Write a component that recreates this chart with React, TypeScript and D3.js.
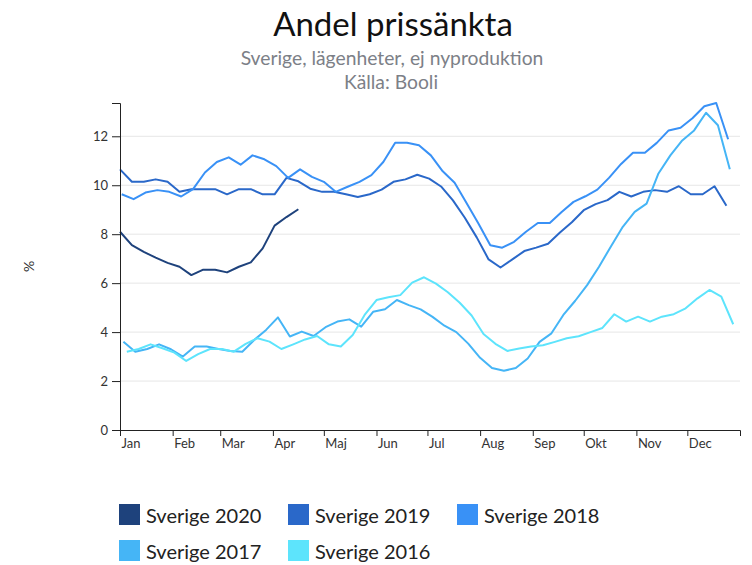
import React, { useEffect, useRef } from 'react';
import * as d3 from 'd3';

const months = ['Jan', 'Feb', 'Mar', 'Apr', 'Maj', 'Jun', 'Jul', 'Aug', 'Sep', 'Okt', 'Nov', 'Dec'];
const yTicks = [0, 2, 4, 6, 8, 10, 12];

const seriesNames = ['Sverige 2020', 'Sverige 2019', 'Sverige 2018', 'Sverige 2017', 'Sverige 2016'];
const seriesColors = ['#1e427c', '#2a68c9', '#3991f6', '#45b5f6', '#5de4fc'];
// day of year (0 = 1 jan) of each series' first weekly value
const seriesStartDay = [0, 0, 1, 2, 4];

const sverige2020 = [8.1, 7.55, 7.28, 7.04, 6.83, 6.67, 6.33, 6.55, 6.55, 6.44, 6.67, 6.85, 7.42, 8.35, 8.7, 9.02];
const sverige2019 = [
    10.65, 10.14, 10.14, 10.24, 10.14, 9.73, 9.84, 9.84, 9.84, 9.63, 9.84, 9.84, 9.63, 9.63,
    10.3, 10.16, 9.86, 9.73, 9.73, 9.63, 9.52, 9.63, 9.82, 10.14, 10.24, 10.43, 10.27, 9.95,
    9.38, 8.67, 7.87, 6.97, 6.64, 6.97, 7.31, 7.45, 7.61, 8.07, 8.49, 8.98, 9.23, 9.39, 9.73,
    9.54, 9.73, 9.8, 9.73, 9.96, 9.63, 9.63, 9.96, 9.16,
];
const sverige2018 = [
    9.63, 9.43, 9.7, 9.8, 9.73, 9.54, 9.84, 10.52, 10.95, 11.14, 10.84, 11.22, 11.06, 10.78,
    10.3, 10.65, 10.34, 10.14, 9.73, 9.94, 10.14, 10.41, 10.95, 11.74, 11.74, 11.63, 11.22,
    10.57, 10.1, 9.27, 8.44, 7.55, 7.45, 7.69, 8.1, 8.46, 8.46, 8.91, 9.32, 9.55, 9.82, 10.31,
    10.87, 11.33, 11.33, 11.73, 12.24, 12.35, 12.74, 13.23, 13.36, 11.88,
];
const sverige2017 = [
    3.61, 3.2, 3.31, 3.5, 3.3, 3.0, 3.41, 3.41, 3.31, 3.23, 3.2, 3.68, 4.09, 4.6, 3.82, 4.02,
    3.84, 4.2, 4.43, 4.52, 4.22, 4.83, 4.93, 5.31, 5.1, 4.93, 4.62, 4.26, 4.0, 3.53, 2.95, 2.53,
    2.42, 2.53, 2.92, 3.6, 3.95, 4.7, 5.28, 5.92, 6.67, 7.5, 8.3, 8.91, 9.25, 10.48, 11.22,
    11.83, 12.24, 12.96, 12.45, 10.65,
];
const sverige2016 = [
    3.2, 3.31, 3.5, 3.34, 3.16, 2.82, 3.1, 3.31, 3.31, 3.2, 3.52, 3.75, 3.61, 3.31, 3.5, 3.7,
    3.84, 3.5, 3.41, 3.88, 4.7, 5.31, 5.42, 5.51, 6.02, 6.24, 5.98, 5.63, 5.2, 4.68, 3.92, 3.52,
    3.23, 3.33, 3.41, 3.46, 3.6, 3.75, 3.83, 4.0, 4.17, 4.73, 4.43, 4.63, 4.43, 4.63, 4.73, 4.97,
    5.38, 5.72, 5.45, 4.32,
];
const seriesValues = [sverige2020, sverige2019, sverige2018, sverige2017, sverige2016];

const W = 752;
const H = 565;
const margin = { left: 120, right: 12, top: 103, bottom: 135 };
const font = 'Lato, "Open Sans", sans-serif';

export default function App() {
    const xAxisRef = useRef<SVGGElement>(null);
    const yAxisRef = useRef<SVGGElement>(null);

    //time scale for a non-leap year, every series is laid on it
    const x = d3.scaleTime()
        .domain([new Date(2019, 0, 1), new Date(2020, 0, 1)])
        .range([margin.left, W - margin.right]);

    const maxVal = d3.max(seriesValues, s => d3.max(s)) as number;
    const y = d3.scaleLinear()
        .domain([0, maxVal])
        .range([H - margin.bottom, margin.top]);

    const line = d3.line<{ date: Date; v: number }>()
        .x(d => x(d.date))
        .y(d => y(d.v));

    const series = seriesValues.map((vals, i) =>
        vals.map((v, k) => ({ date: new Date(2019, 0, 1 + seriesStartDay[i] + 7 * k), v }))
    );

    useEffect(() => {
        const xAxis = d3.axisBottom(x)
            .tickValues(months.map((m, i) => new Date(2019, i, 1)))
            .tickFormat((d, i) => months[i])
            .tickSize(6)
            .tickSizeOuter(6);
        const gx = d3.select(xAxisRef.current!);
        gx.call(xAxis as any);
        gx.selectAll('text')
            .attr('text-anchor', 'start')
            .attr('x', 1)
            .attr('y', 9)
            .style('font-size', '13px')
            .style('font-family', font)
            .style('fill', '#333');
        gx.selectAll('line, path').attr('stroke', '#222');

        const yAxis = d3.axisLeft(y)
            .tickValues(yTicks)
            .tickSize(8)
            .tickSizeOuter(8)
            .tickPadding(4);
        const gy = d3.select(yAxisRef.current!);
        gy.call(yAxis as any);
        gy.selectAll('text')
            .style('font-size', '13px')
            .style('font-family', font)
            .style('fill', '#333');
        gy.selectAll('line, path').attr('stroke', '#222');
    }, []);

    const legendCols = [119, 288, 457];

    return (
        <svg width={W} height={H} style={{ position: 'absolute', left: 0, top: 0, background: '#fff' }}>
            <text x={393} y={36} textAnchor="middle" fontFamily={font} fontSize={33} fill="#111">Andel prissänkta</text>
            <text x={392} y={65} textAnchor="middle" fontFamily={font} fontSize={19.3} fill="#7c8087">Sverige, lägenheter, ej nyproduktion</text>
            <text x={391} y={88.5} textAnchor="middle" fontFamily={font} fontSize={19.3} fill="#7c8087">Källa: Booli</text>

            {/* gridlines */}
            {yTicks.filter(t => t > 0).map(t => (
                <line key={t} x1={margin.left} x2={W - margin.right} y1={y(t)} y2={y(t)} stroke="#e6e6e6" strokeWidth={1} />
            ))}

            <text transform={`translate(34, ${(y(0) + y(maxVal)) / 2}) rotate(-90)`} textAnchor="middle"
                fontFamily={font} fontSize={14} fill="#333">%</text>

            {series.map((s, i) => (
                <path key={seriesNames[i]} d={line(s) || ''} fill="none" stroke={seriesColors[i]} strokeWidth={2} strokeLinejoin="round" />
            ))}

            <g ref={xAxisRef} transform={`translate(0, ${y(0)})`} />
            <g ref={yAxisRef} transform={`translate(${margin.left}, 0)`} />

            {seriesNames.map((name, i) => {
                const lx = legendCols[i % 3];
                const ly = 504 + Math.floor(i / 3) * 36;
                return (
                    <g key={name}>
                        <rect x={lx} y={ly} width={21} height={21} fill={seriesColors[i]} />
                        <text x={lx + 27} y={ly + 18.5} fontFamily={font} fontSize={20} fill="#222">{name}</text>
                    </g>
                );
            })}
        </svg>
    );
}
